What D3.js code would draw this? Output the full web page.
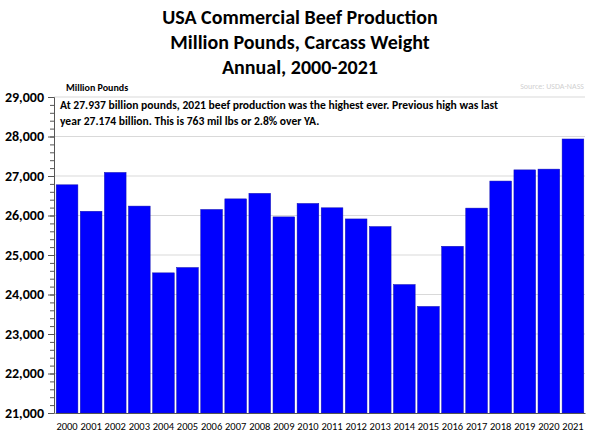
<!DOCTYPE html>
<html>
<head>
<meta charset="utf-8">
<script src="https://cdn.jsdelivr.net/npm/d3@7"></script>
<style>
  body { margin: 0; background: #fff; }
  text { font-family: Calibri, Carlito, "Open Sans", sans-serif; }
</style>
</head>
<body>
<script>
const years = ['2000', '2001', '2002', '2003', '2004', '2005', '2006', '2007', '2008', '2009', '2010',
  '2011', '2012', '2013', '2014', '2015', '2016', '2017', '2018', '2019', '2020', '2021']
const production = [26777, 26107, 27090, 26238, 24548, 24683, 26153, 26421, 26561, 25965, 26305,
  26195, 25913, 25720, 24252, 23698, 25221, 26187, 26872, 27155, 27174, 27937]
const yTicks = [21000, 22000, 23000, 24000, 25000, 26000, 27000, 28000, 29000]
const titleLines = ['USA Commercial Beef Production', 'Million Pounds, Carcass Weight', 'Annual, 2000-2021']
const noteLines = ['At 27.937 billion pounds, 2021 beef production was the highest ever. Previous high was last',
  'year 27.174 billion. This is 763 mil lbs or 2.8% over YA.']

const width = 600
const height = 440
const m = { left: 54, right: 15, top: 97, bottom: 27 }

const svg = d3.select('body').append('svg')
  .attr('width', width)
  .attr('height', height)

const x = d3.scaleBand()
  .domain(years)
  .range([m.left + 1, width - m.right])
  .paddingInner(0.1)
  .paddingOuter(0.05)

const y = d3.scaleLinear()
  .domain([21000, 29000])
  .range([height - m.bottom, m.top])

// gridlines
svg.append('g')
  .selectAll('line')
  .data(yTicks.slice(1))
  .enter()
  .append('line')
  .attr('x1', m.left)
  .attr('x2', width - m.right)
  .attr('y1', d => y(d))
  .attr('y2', d => y(d))
  .attr('stroke', '#d9d9d9')

svg.append('g')
  .selectAll('rect')
  .data(production)
  .enter()
  .append('rect')
  .attr('x', (d, i) => x(years[i]))
  .attr('y', d => y(d))
  .attr('width', x.bandwidth())
  .attr('height', d => y(21000) - y(d))
  .attr('fill', '#0000ff')
  .attr('stroke', '#1010b0')
  .attr('stroke-width', 0.5)

// y axis with minor ticks
const yAxis = svg.append('g')
  .attr('transform', 'translate(' + m.left + ',0)')
yAxis.append('g')
  .call(d3.axisLeft(y).tickValues(d3.range(21000, 29001, 200)).tickSize(4).tickFormat(''))
  .call(g => g.select('.domain').attr('stroke', '#555'))
  .call(g => g.selectAll('line').attr('stroke', '#555'))
yAxis.append('g')
  .call(d3.axisLeft(y).tickValues(yTicks).tickSize(6).tickFormat(d3.format(',')))
  .call(g => g.select('.domain').remove())
  .call(g => g.selectAll('line').attr('stroke', '#555'))
  .call(g => g.selectAll('text').attr('font-size', 14).attr('font-weight', 'bold').attr('fill', '#000').attr('x', -10))

svg.append('g')
  .attr('transform', 'translate(0,' + (height - m.bottom) + ')')
  .call(d3.axisBottom(x).tickSize(0).tickPadding(10))
  .call(g => g.select('.domain').attr('stroke', '#555'))
  .call(g => g.selectAll('text').attr('font-size', 10.5).attr('fill', '#000'))

svg.append('g')
  .selectAll('text')
  .data(titleLines)
  .enter()
  .append('text')
  .attr('x', 300)
  .attr('y', (d, i) => 24 + i * 25)
  .attr('text-anchor', 'middle')
  .attr('font-size', 20)
  .attr('font-weight', 'bold')
  .text(d => d)

svg.append('text')
  .attr('x', 66).attr('y', 91)
  .attr('font-size', 10).attr('font-weight', 'bold')
  .text('Million Pounds')

svg.append('text')
  .attr('x', 584).attr('y', 89)
  .attr('text-anchor', 'end')
  .attr('font-size', 8).attr('fill', '#d0d0d0')
  .text('Source: USDA-NASS')

svg.append('g')
  .selectAll('text')
  .data(noteLines)
  .enter()
  .append('text')
  .attr('x', 60)
  .attr('y', (d, i) => 109 + i * 16)
  .attr('font-size', 11.6)
  .attr('font-weight', 'bold')
  .text(d => d)
</script>
</body>
</html>
